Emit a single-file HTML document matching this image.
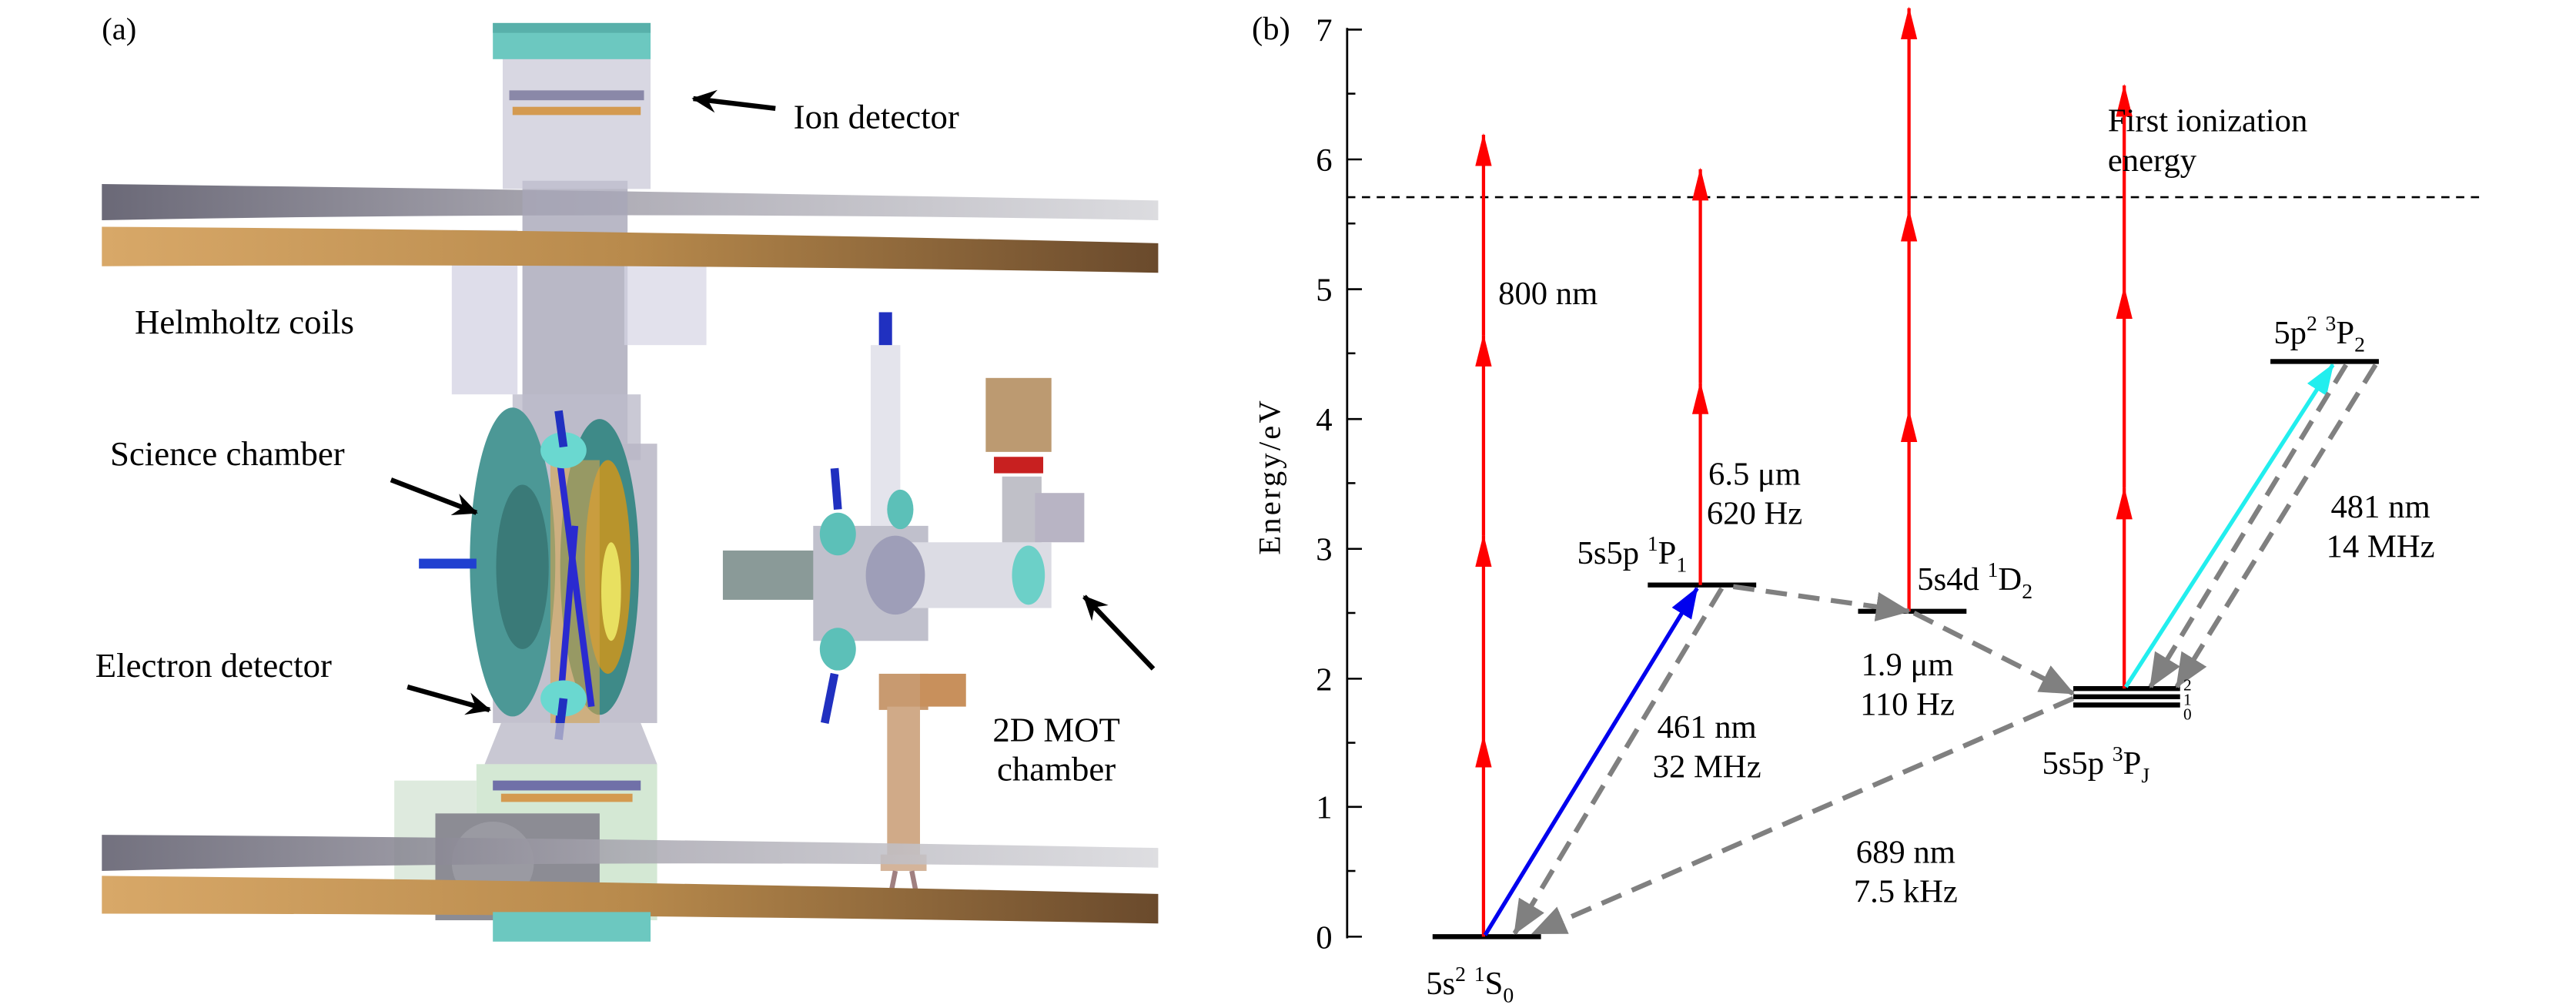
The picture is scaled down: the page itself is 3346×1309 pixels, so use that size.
<!DOCTYPE html>
<html><head><meta charset="utf-8"><style>
html,body{margin:0;padding:0;background:#fff;}
svg{display:block;}
</style></head><body>
<svg width="3346" height="1309" viewBox="0 0 1568 613.4" preserveAspectRatio="none" xmlns="http://www.w3.org/2000/svg" font-family="'Liberation Serif', serif">
<defs>
<linearGradient id="gy" x1="0" x2="1"><stop offset="0" stop-color="#5a5868"/><stop offset="0.5" stop-color="#a8a6b0"/><stop offset="1" stop-color="#d8d8dc"/></linearGradient>
<linearGradient id="gd" x1="0" x2="1"><stop offset="0" stop-color="#d8a868"/><stop offset="0.5" stop-color="#b88a4c"/><stop offset="1" stop-color="#6a4a2c"/></linearGradient>
<marker id="rh" markerWidth="20" markerHeight="12" refX="19" refY="6" orient="auto" markerUnits="userSpaceOnUse"><path d="M0,1 L20,6 L0,11 Z" fill="#f00"/></marker>
<marker id="bh" markerWidth="20" markerHeight="14" refX="18" refY="7" orient="auto" markerUnits="userSpaceOnUse"><path d="M0,0 L19,7 L0,14 Z" fill="#0000ee"/></marker>
<marker id="ch" markerWidth="20" markerHeight="14" refX="18" refY="7" orient="auto" markerUnits="userSpaceOnUse"><path d="M0,0 L19,7 L0,14 Z" fill="#22eeee"/></marker>
<marker id="gh" markerWidth="22" markerHeight="18" refX="20" refY="9" orient="auto" markerUnits="userSpaceOnUse"><path d="M0,0 L21,9 L0,18 Z" fill="#808080"/></marker>
<marker id="kh" markerWidth="16" markerHeight="14" refX="14" refY="7" orient="auto" markerUnits="userSpaceOnUse"><path d="M0,0 L15,7 L0,14 L5,7 Z" fill="#000"/></marker>
</defs>

<text x="62" y="24" font-size="19">(a)</text>
<path d="M62,112 Q380,116 705,122 L705,134 Q380,128 62,134 Z" fill="url(#gy)" opacity="0.9"/>
<rect x="318" y="110" width="64" height="160" fill="#a8a6b8" opacity="0.8"/>
<rect x="306" y="35" width="90" height="80" fill="#c8c6d6" opacity="0.7"/>
<rect x="310" y="55" width="82" height="6" fill="#8a88a8"/>
<rect x="312" y="65" width="78" height="5" fill="#d49a50"/>
<rect x="300" y="14" width="96" height="22" fill="#6cc8c0"/>
<rect x="300" y="14" width="96" height="6" fill="#58b0aa"/>
<rect x="275" y="140" width="40" height="100" fill="#c8c6dc" opacity="0.6"/>
<rect x="380" y="150" width="50" height="60" fill="#d6d4e4" opacity="0.7"/>
<rect x="312" y="240" width="78" height="40" fill="#bdbbcb" opacity="0.8"/>
<rect x="300" y="270" width="100" height="170" fill="#b8b6c6" opacity="0.85"/>
<ellipse cx="365" cy="345" rx="24" ry="90" fill="#3e8a88"/>
<ellipse cx="370" cy="345" rx="14" ry="65" fill="#b8942c"/>
<ellipse cx="372" cy="360" rx="6" ry="30" fill="#e8e060"/>
<ellipse cx="312" cy="342" rx="26" ry="94" fill="#4c9896"/>
<ellipse cx="318" cy="345" rx="16" ry="50" fill="#3a7a78"/>
<rect x="335" y="280" width="30" height="160" fill="#d4a44c" opacity="0.6"/>
<line x1="340" y1="275" x2="360" y2="430" stroke="#2a2ad0" stroke-width="4"/>
<line x1="350" y1="320" x2="340" y2="440" stroke="#2a2ad0" stroke-width="4"/>
<line x1="255" y1="343" x2="290" y2="343" stroke="#2040d0" stroke-width="6"/>
<ellipse cx="343" cy="274" rx="14" ry="11" fill="#6ad8d0"/>
<line x1="343" y1="272" x2="340" y2="250" stroke="#2030c0" stroke-width="5"/>
<ellipse cx="343" cy="425" rx="14" ry="11" fill="#6ad8d0"/>
<line x1="343" y1="425" x2="340" y2="450" stroke="#2030c0" stroke-width="5"/>
<path d="M305,440 L390,440 L400,465 L295,465 Z" fill="#bcbac8" opacity="0.8"/>
<rect x="290" y="465" width="110" height="95" fill="#b8d8b8" opacity="0.6"/>
<rect x="300" y="475" width="90" height="6" fill="#7070a8"/>
<rect x="305" y="483" width="80" height="5" fill="#d49a50"/>
<rect x="240" y="475" width="50" height="70" fill="#c8dcc8" opacity="0.6"/>
<rect x="265" y="495" width="100" height="65" fill="#8c8c94"/>
<ellipse cx="300" cy="525" rx="25" ry="25" fill="#9a9aa2"/>
<rect x="530" y="210" width="18" height="110" fill="#e4e4ec"/>
<rect x="535" y="190" width="8" height="20" fill="#2030c0"/>
<rect x="600" y="230" width="40" height="45" fill="#b08858" opacity="0.85"/>
<rect x="605" y="278" width="30" height="10" fill="#c82020"/>
<rect x="610" y="290" width="24" height="70" fill="#c0c0c8"/>
<rect x="630" y="300" width="30" height="30" fill="#b8b4c4"/>
<rect x="440" y="335" width="100" height="30" fill="#8a9a98"/>
<rect x="495" y="320" width="70" height="70" fill="#c0c0cc"/>
<rect x="540" y="330" width="100" height="40" fill="#dcdce4"/>
<ellipse cx="545" cy="350" rx="18" ry="24" fill="#9e9eb8"/>
<ellipse cx="626" cy="350" rx="10" ry="18" fill="#6cd0c8"/>
<ellipse cx="510" cy="325" rx="11" ry="13" fill="#5cc0b8"/>
<ellipse cx="510" cy="395" rx="11" ry="13" fill="#5cc0b8"/>
<ellipse cx="548" cy="310" rx="8" ry="12" fill="#5cc0b8"/>
<line x1="508" y1="410" x2="502" y2="440" stroke="#2030c0" stroke-width="5"/>
<line x1="510" y1="310" x2="508" y2="285" stroke="#2030c0" stroke-width="5"/>
<rect x="535" y="410" width="30" height="22" fill="#c89a70"/>
<rect x="560" y="410" width="28" height="20" fill="#c8905c"/>
<rect x="540" y="430" width="20" height="95" fill="#d0aa88"/>
<rect x="536" y="520" width="28" height="10" fill="#d4b49a"/>
<line x1="545" y1="530" x2="540" y2="555" stroke="#a08080" stroke-width="3"/>
<line x1="555" y1="530" x2="560" y2="555" stroke="#a08080" stroke-width="3"/>
<path d="M62,138 Q380,140 705,148 L705,166 Q380,160 62,162 Z" fill="url(#gd)"/>
<path d="M62,508 Q380,510 705,516 L705,528 Q380,522 62,530 Z" fill="url(#gy)" opacity="0.85"/>
<path d="M62,533 Q380,536 705,544 L705,562 Q380,556 62,556 Z" fill="url(#gd)"/>
<rect x="300" y="555" width="96" height="18" fill="#6cc8c0"/>
<text x="483" y="78" font-size="21">Ion detector</text>
<text x="82" y="203" font-size="21">Helmholtz coils</text>
<text x="67" y="283" font-size="21">Science chamber</text>
<text x="58" y="412" font-size="21">Electron detector</text>
<text x="643" y="451" font-size="21" text-anchor="middle">2D MOT</text>
<text x="643" y="475" font-size="21" text-anchor="middle">chamber</text>
<line x1="472" y1="66" x2="422" y2="60" stroke="#000" stroke-width="3" marker-end="url(#kh)"/>
<line x1="238" y1="292" x2="290" y2="312" stroke="#000" stroke-width="3" marker-end="url(#kh)"/>
<line x1="248" y1="418" x2="298" y2="432" stroke="#000" stroke-width="3" marker-end="url(#kh)"/>
<line x1="702" y1="407" x2="660" y2="363" stroke="#000" stroke-width="3" marker-end="url(#kh)"/>

<text x="762" y="24" font-size="20">(b)</text>
<line x1="820" y1="17" x2="820" y2="571" stroke="#000" stroke-width="1.3"/>
<g stroke="#000" stroke-width="1.2">
<line x1="820" y1="18" x2="829" y2="18"/><line x1="820" y1="97" x2="829" y2="97"/><line x1="820" y1="176" x2="829" y2="176"/><line x1="820" y1="255" x2="829" y2="255"/><line x1="820" y1="334" x2="829" y2="334"/><line x1="820" y1="413" x2="829" y2="413"/><line x1="820" y1="491" x2="829" y2="491"/><line x1="820" y1="570" x2="829" y2="570"/>
<line x1="820" y1="57" x2="825" y2="57"/><line x1="820" y1="136" x2="825" y2="136"/><line x1="820" y1="215" x2="825" y2="215"/><line x1="820" y1="294" x2="825" y2="294"/><line x1="820" y1="373" x2="825" y2="373"/><line x1="820" y1="452" x2="825" y2="452"/><line x1="820" y1="530" x2="825" y2="530"/>
</g>
<g font-size="20" text-anchor="middle">
<text x="806" y="25">7</text><text x="806" y="104">6</text><text x="806" y="183">5</text><text x="806" y="262">4</text><text x="806" y="341">3</text><text x="806" y="420">2</text><text x="806" y="498">1</text><text x="806" y="577">0</text>
</g>
<text transform="translate(779,290) rotate(-90)" font-size="19" text-anchor="middle" letter-spacing="1.5">Energy/eV</text>
<line x1="820" y1="120" x2="1512" y2="120" stroke="#000" stroke-width="1.2" stroke-dasharray="5,4"/>
<g stroke="#000" stroke-width="3">
<line x1="872" y1="570" x2="938" y2="570"/>
<line x1="1003" y1="356" x2="1069" y2="356"/>
<line x1="1131" y1="372" x2="1197" y2="372"/>
<line x1="1262" y1="419" x2="1327" y2="419"/>
<line x1="1262" y1="424" x2="1327" y2="424"/>
<line x1="1262" y1="429" x2="1327" y2="429"/>
<line x1="1382" y1="220" x2="1448" y2="220"/>
</g>
<g stroke="#f00" stroke-width="2" fill="none">
<line x1="903" y1="570" x2="903" y2="448" marker-end="url(#rh)"/>
<line x1="903" y1="448" x2="903" y2="326" marker-end="url(#rh)"/>
<line x1="903" y1="326" x2="903" y2="204" marker-end="url(#rh)"/>
<line x1="903" y1="204" x2="903" y2="82" marker-end="url(#rh)"/>
<line x1="1035" y1="356" x2="1035" y2="233" marker-end="url(#rh)"/>
<line x1="1035" y1="233" x2="1035" y2="103" marker-end="url(#rh)"/>
<line x1="1162" y1="372" x2="1162" y2="250" marker-end="url(#rh)"/>
<line x1="1162" y1="250" x2="1162" y2="128" marker-end="url(#rh)"/>
<line x1="1162" y1="128" x2="1162" y2="5" marker-end="url(#rh)"/>
<line x1="1293" y1="419" x2="1293" y2="297" marker-end="url(#rh)"/>
<line x1="1293" y1="297" x2="1293" y2="175" marker-end="url(#rh)"/>
<line x1="1293" y1="175" x2="1293" y2="52" marker-end="url(#rh)"/>
</g>
<line x1="904" y1="569" x2="1033" y2="358" stroke="#0000ee" stroke-width="2.5" marker-end="url(#bh)"/>
<line x1="1294" y1="418" x2="1420" y2="222" stroke="#22eeee" stroke-width="2.5" marker-end="url(#ch)"/>
<g stroke="#808080" stroke-width="3" stroke-dasharray="13,7" fill="none">
<line x1="1048" y1="358" x2="922" y2="568" marker-end="url(#gh)"/>
<line x1="1055" y1="357" x2="1162" y2="372" marker-end="url(#gh)"/>
<line x1="1165" y1="373" x2="1262" y2="422" marker-end="url(#gh)"/>
<line x1="1262" y1="425" x2="933" y2="568" marker-end="url(#gh)"/>
<line x1="1428" y1="222" x2="1309" y2="418" marker-end="url(#gh)"/>
<line x1="1446" y1="222" x2="1325" y2="418" marker-end="url(#gh)"/>
</g>
<g font-size="20">
<text x="912" y="185">800 nm</text>
<text x="960" y="343">5s5p <tspan font-size="13" dy="-8">1</tspan><tspan dy="8">P</tspan><tspan font-size="13" dy="5">1</tspan></text>
<text x="1068" y="295" text-anchor="middle">6.5 μm</text>
<text x="1068" y="319" text-anchor="middle">620 Hz</text>
<text x="1167" y="359">5s4d <tspan font-size="13" dy="-8">1</tspan><tspan dy="8">D</tspan><tspan font-size="13" dy="5">2</tspan></text>
<text x="1161" y="411" text-anchor="middle">1.9 μm</text>
<text x="1161" y="435" text-anchor="middle">110 Hz</text>
<text x="1039" y="449" text-anchor="middle">461 nm</text>
<text x="1039" y="473" text-anchor="middle">32 MHz</text>
<text x="1243" y="471">5s5p <tspan font-size="13" dy="-8">3</tspan><tspan dy="8">P</tspan><tspan font-size="13" dy="5">J</tspan></text>
<text x="1160" y="525" text-anchor="middle">689 nm</text>
<text x="1160" y="549" text-anchor="middle">7.5 kHz</text>
<text x="1449" y="315" text-anchor="middle">481 nm</text>
<text x="1449" y="339" text-anchor="middle">14 MHz</text>
<text x="1384" y="209">5p<tspan font-size="13" dy="-8">2</tspan><tspan dy="8"> </tspan><tspan font-size="13" dy="-8">3</tspan><tspan dy="8">P</tspan><tspan font-size="13" dy="5">2</tspan></text>
<text x="1283" y="80">First ionization</text>
<text x="1283" y="104">energy</text>
<text x="868" y="605">5s<tspan font-size="13" dy="-8">2</tspan><tspan dy="8"> </tspan><tspan font-size="13" dy="-8">1</tspan><tspan dy="8">S</tspan><tspan font-size="13" dy="5">0</tspan></text>
</g>
<g font-size="10">
<text x="1329" y="420">2</text><text x="1329" y="429">1</text><text x="1329" y="438">0</text>
</g>
</svg>
</body></html>
